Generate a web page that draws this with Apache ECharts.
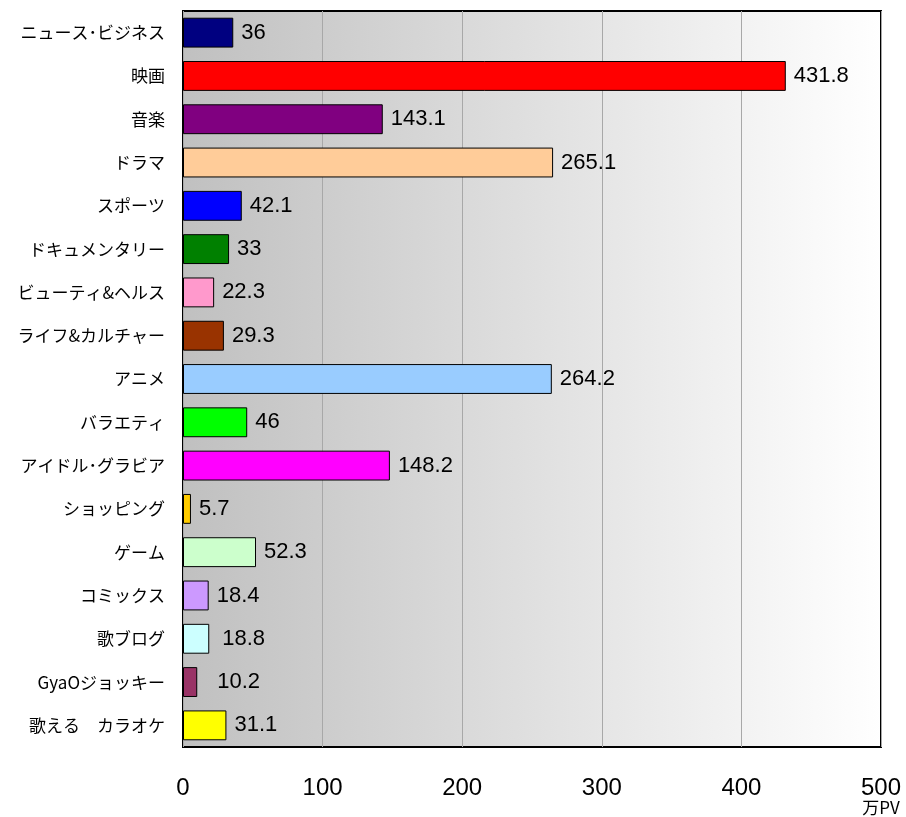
<!DOCTYPE html>
<html>
<head>
<meta charset="utf-8">
<script src="https://cdn.jsdelivr.net/npm/echarts@6/dist/echarts.min.js"></script>
<style>
    html, body { margin: 0; padding: 0; background: #fff; }
    #chart { width: 906px; height: 817px; }
</style>
</head>
<body>
<div id="chart"></div>
<script>
var categories = ['ニュース･ビジネス', '映画', '音楽', 'ドラマ', 'スポーツ', 'ドキュメンタリー', 'ビューティ&ヘルス',
    'ライフ&カルチャー', 'アニメ', 'バラエティ', 'アイドル･グラビア', 'ショッピング', 'ゲーム', 'コミックス',
    '歌ブログ', 'GyaOジョッキー', '歌える　カラオケ'];
var values = [36, 431.8, 143.1, 265.1, 42.1, 33, 22.3, 29.3, 264.2, 46, 148.2, 5.7, 52.3, 18.4, 18.8, 10.2, 31.1];
var colors = ['#000080', '#ff0000', '#800080', '#ffcc99', '#0000ff', '#008000', '#ff99cc', '#993300',
    '#99ccff', '#00ff00', '#ff00ff', '#ffcc00', '#ccffcc', '#cc99ff', '#ccffff', '#993366', '#ffff00'];
var labelGaps = [8, 8, 8, 8, 8, 8, 8, 8, 8, 8, 8, 8, 8, 8, 13, 20, 8];

var chart = echarts.init(document.getElementById('chart'));

// 棒データ
var barData = values.map(function (v, i) {
    return {
        value: v,
        itemStyle: {color: colors[i]},
        label: {distance: labelGaps[i]}
    };
});

var option = {
    animation: false,
    grid: {
        left: 183,
        right: 25,
        top: 11,
        bottom: 70,
        show: true,
        borderColor: '#000',
        borderWidth: 2,
        backgroundColor: new echarts.graphic.LinearGradient(0, 0, 1, 0, [
            {offset: 0, color: '#c0c0c0'},
            {offset: 1, color: '#ffffff'}
        ])
    },
    xAxis: {
        type: 'value',
        min: 0,
        max: 500,
        interval: 100,
        axisLine: {show: false},
        axisTick: {show: false},
        splitLine: {lineStyle: {color: '#a8a8a8', width: 1}},
        axisLabel: {
            margin: 30,
            color: '#000',
            fontFamily: 'Liberation Sans, Arial, sans-serif',
            fontSize: 24,
            lineHeight: 22,
            formatter: function (v) {
                return v === 500 ? '500\n{u|万PV}' : String(v);
            },
            rich: {
                u: {
                    fontSize: 17,
                    fontFamily: 'Noto Sans CJK JP',
                    color: '#000',
                    lineHeight: 18
                }
            }
        }
    },
    yAxis: {
        type: 'category',
        data: categories,
        inverse: true,
        axisLine: {show: false},
        axisTick: {show: false},
        axisLabel: {
            margin: 18,
            color: '#000',
            fontFamily: 'Noto Sans CJK JP',
            fontSize: 17
        }
    },
    series: [{
        type: 'bar',
        data: barData,
        barCategoryGap: '31%',
        itemStyle: {borderColor: '#000', borderWidth: 1},
        label: {
            show: true,
            position: 'right',
            color: '#000',
            fontFamily: 'Liberation Sans, Arial, sans-serif',
            fontSize: 22
        }
    }]
};

chart.setOption(option);
</script>
</body>
</html>
